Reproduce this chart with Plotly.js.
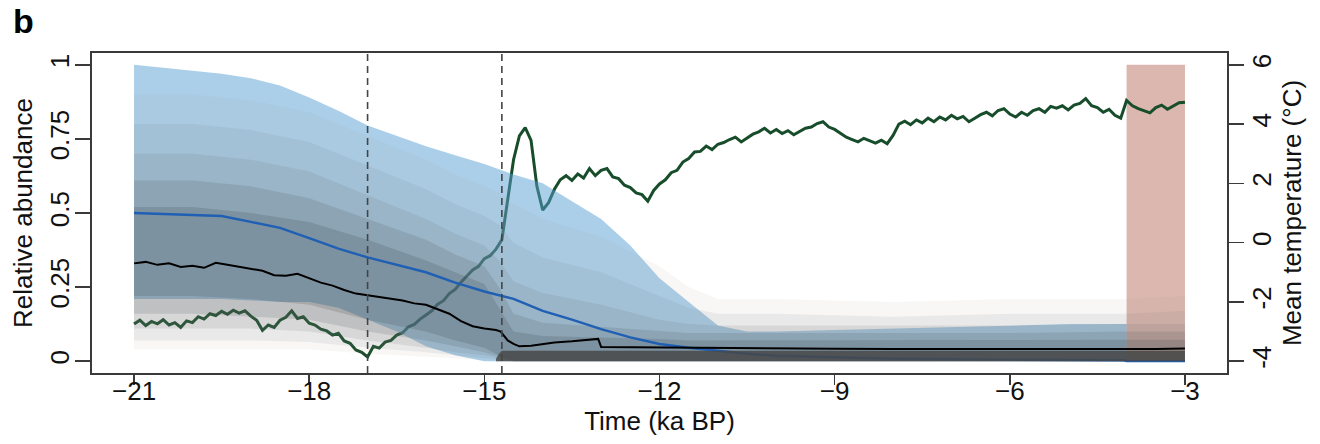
<!DOCTYPE html>
<html><head><meta charset="utf-8">
<script src="https://cdn.plot.ly/plotly-3.0.1.min.js"></script>
<style>html,body{margin:0;padding:0;background:#fff;} #chart{width:1320px;height:444px;}</style>
</head><body><div id="chart"></div>
<script>
// ---- Axis ticks ----
const xTickVals = [-21, -18, -15, -12, -9, -6, -3];
const xTickText = ['\u221221', '\u221218', '\u221215', '\u221212', '\u22129', '\u22126', '\u22123'];
const abTickVals = [0, 0.25, 0.5, 0.75, 1];
const abTickText = ['0', '0.25', '0.5', '0.75', '1'];
const tempTickVals = [-4, -2, 0, 2, 4, 6];
const tempTickText = ['-4', '-2', '0', '2', '4', '6'];

// ---- Event markers and shaded period (ka BP) ----
const eventTimes = [-17.0, -14.7];
const shadeT = [-4, -3];

// ---- Blue envelope (relative abundance) ----
const blueT  = [-21, -20, -19.5, -19, -18.5, -18, -17.5, -17, -16.5, -16, -15.5, -15, -14.5, -14, -13.5, -13, -12.5, -12, -11.5, -11, -10.5, -10, -9, -8, -7, -6, -5, -4];
const blueHi = [1.0, 0.98, 0.97, 0.955, 0.93, 0.89, 0.845, 0.795, 0.76, 0.725, 0.695, 0.665, 0.63, 0.60, 0.54, 0.48, 0.39, 0.28, 0.20, 0.12, 0.10, 0.10, 0.105, 0.11, 0.115, 0.12, 0.125, 0.125];
const blueLo = [0.21, 0.21, 0.21, 0.205, 0.20, 0.20, 0.18, 0.14, 0.10, 0.05, 0.02, 0, 0, 0, 0, 0, 0, 0, 0, 0, 0, 0, 0, 0, 0, 0, 0, 0];

// ---- Simulation ensemble spread (relative abundance), nested ranges ----
const bandT = [-21, -20, -19, -18, -17, -16, -15.5, -15, -14.75, -14.5, -14, -13, -12, -11.5, -11, -10, -8, -6, -4, -3];
const b1Lo = [0.04, 0.04, 0.04, 0.04, 0.025, 0.015, 0.01, 0.005, 0, 0, 0, 0, 0, 0, 0, 0, 0, 0, 0, 0];
const b1Hi = [0.90, 0.90, 0.88, 0.84, 0.76, 0.68, 0.63, 0.59, 0.57, 0.53, 0.48, 0.42, 0.32, 0.25, 0.21, 0.21, 0.20, 0.21, 0.21, 0.22];
const b2Lo = [0.07, 0.07, 0.07, 0.065, 0.045, 0.03, 0.02, 0.01, 0.005, 0, 0, 0, 0, 0, 0, 0, 0, 0, 0, 0];
const b2Hi = [0.80, 0.80, 0.78, 0.74, 0.66, 0.58, 0.53, 0.49, 0.46, 0.40, 0.35, 0.30, 0.22, 0.18, 0.16, 0.16, 0.15, 0.16, 0.16, 0.17];
const b3Lo = [0.11, 0.11, 0.11, 0.10, 0.07, 0.045, 0.03, 0.02, 0.01, 0, 0, 0, 0, 0, 0, 0, 0, 0, 0, 0];
const b3Hi = [0.70, 0.70, 0.68, 0.64, 0.56, 0.48, 0.43, 0.39, 0.34, 0.27, 0.23, 0.19, 0.14, 0.125, 0.12, 0.12, 0.12, 0.12, 0.125, 0.125];
const b4Lo = [0.16, 0.16, 0.15, 0.14, 0.10, 0.07, 0.05, 0.03, 0.015, 0, 0, 0, 0, 0, 0, 0, 0, 0, 0, 0];
const b4Hi = [0.61, 0.61, 0.59, 0.55, 0.48, 0.41, 0.36, 0.32, 0.25, 0.16, 0.13, 0.115, 0.10, 0.095, 0.095, 0.095, 0.095, 0.095, 0.10, 0.10];
const b5Lo = [0.22, 0.22, 0.21, 0.19, 0.14, 0.10, 0.07, 0.045, 0.02, 0, 0, 0, 0, 0, 0, 0, 0, 0, 0, 0];
const b5Hi = [0.52, 0.52, 0.50, 0.47, 0.41, 0.34, 0.30, 0.26, 0.18, 0.10, 0.085, 0.08, 0.075, 0.07, 0.07, 0.07, 0.07, 0.07, 0.072, 0.072];
const darkT  = [-14.8, -14.75, -14.7, -3];
const darkHi = [0.008, 0.025, 0.035, 0.035];

// ---- Median (black) and mean trend (blue) ----
const blackT = [-21.0, -20.8, -20.6, -20.4, -20.2, -20.0, -19.8, -19.6, -19.4, -19.2, -19.0, -18.8, -18.6, -18.4, -18.2, -18.0, -17.8, -17.6, -17.4, -17.2, -17.0, -16.8, -16.6, -16.4, -16.2, -16.0, -15.8, -15.6, -15.4, -15.2, -15.0, -14.8, -14.72, -14.6, -14.5, -14.4, -14.2, -14.0, -13.8, -13.5, -13.2, -13.05, -13.0, -12.5, -12.0, -11.0, -10.0, -9.0, -8.0, -7.0, -6.0, -5.0, -4.0, -3.5, -3.0];
const blackV = [0.33, 0.335, 0.325, 0.33, 0.318, 0.322, 0.315, 0.332, 0.325, 0.318, 0.31, 0.305, 0.29, 0.288, 0.295, 0.28, 0.265, 0.255, 0.24, 0.228, 0.222, 0.218, 0.21, 0.205, 0.195, 0.19, 0.175, 0.16, 0.135, 0.118, 0.11, 0.105, 0.10, 0.07, 0.058, 0.05, 0.052, 0.058, 0.063, 0.067, 0.072, 0.075, 0.048, 0.047, 0.046, 0.045, 0.043, 0.042, 0.041, 0.041, 0.04, 0.041, 0.04, 0.041, 0.043];
const trendT = [-21, -20, -19.5, -19, -18.5, -18, -17.5, -17, -16.5, -16, -15.5, -15, -14.5, -14, -13.5, -13, -12.5, -12, -11.5, -11, -10.5, -10, -9, -8, -6, -4.05, -4, -3];
const trendV = [0.50, 0.495, 0.49, 0.47, 0.45, 0.415, 0.38, 0.35, 0.325, 0.30, 0.265, 0.235, 0.21, 0.17, 0.14, 0.108, 0.08, 0.058, 0.045, 0.035, 0.025, 0.018, 0.012, 0.008, 0.005, 0.003, 0, 0];

// ---- Mean temperature (°C), sampled every 0.1 ka from -21 to -3 ----
const tempStart = -21, tempStep = 0.1;
const tempV = [
 -2.75,-2.62,-2.80,-2.66,-2.74,-2.60,-2.78,-2.70,-2.86,-2.64,
 -2.70,-2.50,-2.58,-2.40,-2.46,-2.32,-2.42,-2.28,-2.38,-2.30,
 -2.48,-2.62,-2.96,-2.78,-2.86,-2.62,-2.52,-2.30,-2.56,-2.50,
 -2.72,-2.78,-2.92,-2.98,-3.12,-3.06,-3.32,-3.40,-3.62,-3.70,
 -3.86,-3.50,-3.56,-3.36,-3.30,-3.12,-3.04,-2.84,-2.76,-2.58,
 -2.44,-2.30,-2.08,-1.96,-1.72,-1.58,-1.34,-1.14,-0.92,-0.80,
 -0.54,-0.44,-0.22,0.10,1.40,2.80,3.60,3.88,3.45,1.90,
 1.10,1.35,1.80,2.12,2.26,2.10,2.32,2.18,2.50,2.26,
 2.44,2.50,2.22,2.16,1.94,1.86,1.68,1.62,1.40,1.76,
 1.98,2.12,2.36,2.44,2.72,2.84,3.06,3.08,3.26,3.14,
 3.32,3.38,3.48,3.56,3.40,3.52,3.66,3.74,3.86,3.70,
 3.82,3.68,3.78,3.64,3.74,3.86,3.90,4.02,4.08,3.90,
 3.82,3.68,3.56,3.48,3.40,3.52,3.44,3.36,3.46,3.34,
 3.62,4.00,4.10,3.98,4.14,4.04,4.20,4.08,4.24,4.14,
 4.30,4.18,4.26,4.08,4.20,4.32,4.40,4.28,4.46,4.52,
 4.34,4.24,4.40,4.30,4.46,4.52,4.40,4.60,4.54,4.62,
 4.48,4.64,4.70,4.86,4.62,4.56,4.40,4.50,4.30,4.20,
 4.80,4.62,4.52,4.44,4.38,4.56,4.64,4.50,4.60,4.72,
 4.74
];
const tempT = tempV.map((_, i) => +(tempStart + i * tempStep).toFixed(2));

// ---- helpers ----
function poly(t, lo, hi) {
  return { x: t.concat(t.slice().reverse()), y: hi.concat(lo.slice().reverse()) };
}
function zeros(n) { return new Array(n).fill(0); }
function band(t, lo, hi, color, yaxis) {
  const p = poly(t, lo, hi);
  return { x: p.x, y: p.y, type: 'scatter', mode: 'lines', fill: 'toself', yaxis: yaxis || 'y2',
           fillcolor: color, line: { width: 0 }, hoverinfo: 'skip' };
}

const tMin = tempTickVals[0], tMax = tempTickVals[tempTickVals.length - 1];

const traces = [
  // shaded period (drawn on main axis, underneath everything)
  band(shadeT, [tMin, tMin], [tMax, tMax], 'rgb(219,183,175)', 'y'),
  // temperature on main (right) axis, underneath the abundance layer
  { x: tempT, y: tempV, type: 'scatter', mode: 'lines', xaxis: 'x', yaxis: 'y',
    line: { color: '#174d2a', width: 3 }, hoverinfo: 'skip' },
  band(blueT, blueLo, blueHi, 'rgba(88,160,212,0.5)'),
  band(bandT, b1Lo, b1Hi, 'rgba(150,140,132,0.07)'),
  band(bandT, b2Lo, b2Hi, 'rgba(120,118,116,0.10)'),
  band(bandT, b3Lo, b3Hi, 'rgba(95,98,102,0.13)'),
  band(bandT, b4Lo, b4Hi, 'rgba(80,84,90,0.17)'),
  band(bandT, b5Lo, b5Hi, 'rgba(65,70,76,0.19)'),
  { x: trendT, y: trendV, type: 'scatter', mode: 'lines', yaxis: 'y2',
    line: { color: '#1f5fb4', width: 2.4 }, hoverinfo: 'skip' },
  band(darkT, zeros(darkT.length), darkHi, 'rgba(72,72,72,0.85)'),
  { x: blackT, y: blackV, type: 'scatter', mode: 'lines', yaxis: 'y2',
    line: { color: '#000000', width: 2 }, hoverinfo: 'skip' },
  // empty trace that carries the tick-label axis (x2)
  { x: [], y: [], type: 'scatter', mode: 'lines', xaxis: 'x2', yaxis: 'y2', hoverinfo: 'skip' }
];

const axisCommon = {
  showgrid: false, zeroline: false, showline: true, linecolor: '#3a3a3a', linewidth: 1.6,
  ticks: 'outside', tickcolor: '#3a3a3a', tickwidth: 1.6,
  tickfont: { family: 'Liberation Sans, Arial, sans-serif', size: 26, color: '#111' }
};

const shapes = eventTimes.map(t => ({
  type: 'line', xref: 'x', yref: 'paper', x0: t, x1: t, y0: 0, y1: 1,
  line: { color: '#444', width: 1.6, dash: '7px,5px' }, layer: 'above'
}));

const layout = {
  width: 1320, height: 444,
  margin: { l: 92, r: 93, t: 53, b: 71 },
  paper_bgcolor: '#ffffff', plot_bgcolor: '#ffffff',
  showlegend: false,
  font: { family: 'Liberation Sans, Arial, sans-serif', size: 26, color: '#111' },
  // tick marks and frame
  xaxis: Object.assign({}, axisCommon, {
    range: [-21.72, -2.28], tickvals: xTickVals, ticklen: 10, mirror: true,
    showticklabels: false
  }),
  // tick labels and title, placed closer to the frame
  xaxis2: {
    overlaying: 'x', side: 'bottom', anchor: 'y2', range: [-21.72, -2.28],
    tickvals: xTickVals, ticktext: xTickText, ticks: '', showline: false, showgrid: false, zeroline: false,
    tickfont: { family: 'Liberation Sans, Arial, sans-serif', size: 26, color: '#111' },
    title: { text: 'Time (ka BP)', standoff: 0, font: { size: 26 } }
  },
  yaxis: Object.assign({}, axisCommon, {
    range: [-4.4, 6.4], side: 'right', tickvals: tempTickVals, ticktext: tempTickText,
    tickangle: -90, ticklen: 15, ticklabelstandoff: -4,
    title: { text: 'Mean temperature (°C)', standoff: 6, font: { size: 26 } }
  }),
  yaxis2: Object.assign({}, axisCommon, {
    range: [-0.04, 1.04], side: 'left', overlaying: 'y', tickvals: abTickVals, ticktext: abTickText,
    tickangle: -90, ticklen: 15, ticklabelstandoff: -4,
    title: { text: 'Relative abundance', standoff: 5, font: { size: 26 } }
  }),
  shapes: shapes,
  annotations: [
    { text: '<b>b</b>', xref: 'paper', yref: 'paper', x: -0.071, y: 1.165, xanchor: 'left', yanchor: 'top',
      showarrow: false, font: { family: 'Liberation Sans, Arial, sans-serif', size: 34, color: '#000' } }
  ]
};

Plotly.newPlot('chart', traces, layout, { staticPlot: true, displayModeBar: false });
</script></body></html>
